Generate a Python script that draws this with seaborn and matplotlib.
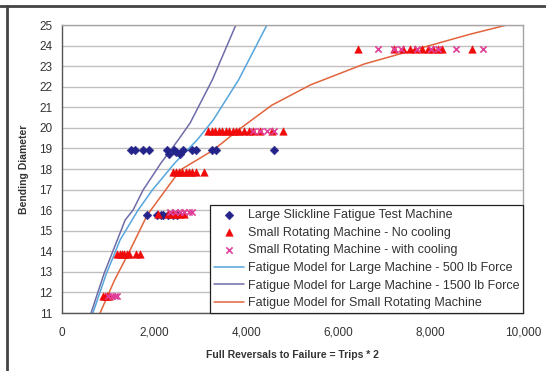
import matplotlib
matplotlib.use("Agg")
import matplotlib.pyplot as plt
from matplotlib.lines import Line2D
from matplotlib.ticker import FuncFormatter
import seaborn as sns

# ---------------- data ----------------
large_x = [1500, 1580, 1750, 1880, 2270, 2330, 2420, 2480, 2560, 2620, 2820, 2900, 3250, 3330, 4600,
           1850, 2050, 2150, 2200, 2300, 2400, 2500]
large_y = [18.9, 18.9, 18.9, 18.9, 18.9, 18.72, 18.9, 18.85, 18.72, 18.9, 18.9, 18.9, 18.9, 18.9, 18.9,
           15.75, 15.75, 15.75, 15.75, 15.75, 15.75, 15.75]

nocool_x = [880, 930, 980, 1020,
            1200, 1250, 1300, 1350, 1400, 1450, 1600, 1700,
            2080, 2300, 2400, 2480, 2560, 2650,
            2400, 2470, 2540, 2610, 2680, 2750, 2820, 2900, 3080,
            3170, 3250, 3320, 3400, 3470, 3550, 3620, 3700, 3780, 3850, 3950, 4050, 4150, 4300, 4550, 4800,
            6430, 7200, 7400, 7550, 7650, 7800, 7950, 8050, 8150, 8250, 8890]
nocool_y = [11.85] * 4 + [13.85] * 8 + [15.8] * 6 + [17.85] * 9 + [19.85] * 16 + [23.85] * 11

cool_x = [1000, 1080, 1150, 1200,
          2350, 2450, 2550, 2650, 2750, 2830,
          4150, 4300, 4450, 4600,
          6850, 7200, 7350, 7700, 8000, 8150, 8540, 9130]
cool_y = [11.85] * 4 + [15.9] * 6 + [19.85] * 4 + [23.85] * 8

m500_x = [670, 960, 1260, 1520, 1650, 1960, 2450, 2930, 3280, 3830, 4480]
m500_y = [11.0, 12.9, 14.55, 15.52, 16.0, 16.98, 18.3, 19.41, 20.38, 22.33, 25.15]

m1500_x = [630, 910, 1200, 1370, 1540, 1760, 2150, 2520, 2780, 3260, 3800]
m1500_y = [11.0, 12.9, 14.55, 15.52, 16.0, 16.98, 18.3, 19.41, 20.24, 22.33, 25.15]

small_x = [826, 1140, 1478, 1848, 2565, 3283, 3826, 4550, 5391, 6550, 7783, 8850, 9913]
small_y = [11.0, 12.6, 14.06, 15.76, 17.95, 18.92, 19.9, 21.1, 22.09, 23.1, 23.88, 24.55, 25.15]

x_ticks = [0, 2000, 4000, 6000, 8000, 10000]
y_ticks = list(range(11, 26))

labels = ["Large Slickline Fatigue Test Machine",
          "Small Rotating Machine - No cooling",
          "Small Rotating Machine - with cooling",
          "Fatigue Model for Large Machine - 500 lb Force",
          "Fatigue Model for Large Machine - 1500 lb Force",
          "Fatigue Model for Small Rotating Machine"]

# ---------------- style ----------------
sns.set_theme(style="white")
plt.rcParams["font.family"] = ["Liberation Sans", "DejaVu Sans"]

fig = plt.figure(figsize=(5.46, 3.71), dpi=100)
ax = fig.add_axes([62 / 546, 1 - 313 / 371, (523 - 62) / 546, (313 - 25) / 371])

c_light = "#55A5DC"
c_dark = "#6E6CA8"
c_orange = "#E2643C"

sns.lineplot(x=m500_x, y=m500_y, sort=False, estimator=None, color=c_light, lw=1.1, ax=ax, label=labels[3])
sns.lineplot(x=m1500_x, y=m1500_y, sort=False, estimator=None, color=c_dark, lw=1.1, ax=ax, label=labels[4])
sns.lineplot(x=small_x, y=small_y, sort=False, estimator=None, color=c_orange, lw=1.1, ax=ax, label=labels[5])

sns.scatterplot(x=large_x, y=large_y, marker="D", color="#23238A", s=20, edgecolor="#23238A",
                linewidth=0.3, ax=ax, label=labels[0], zorder=4)
sns.scatterplot(x=nocool_x, y=nocool_y, marker="^", color="#F00A0A", s=30, edgecolor="#F00A0A",
                linewidth=0.3, ax=ax, label=labels[1], zorder=4)
sns.scatterplot(x=cool_x, y=cool_y, marker="x", color="#E0409A", s=20, linewidth=1.2,
                ax=ax, label=labels[2], zorder=5)

ax.set_xlim(0, 10000)
ax.set_ylim(11, 25)
ax.set_xticks(x_ticks)
ax.set_yticks(y_ticks)
ax.xaxis.set_major_formatter(FuncFormatter(lambda v, p: f"{int(v):,}"))
ax.yaxis.grid(True, color="#C4BEBE", lw=1.0)
ax.xaxis.grid(False)
ax.set_axisbelow(True)

for s in ["top", "right"]:
    ax.spines[s].set_color("#A8A4A4")
    ax.spines[s].set_linewidth(1.0)
for s in ["left", "bottom"]:
    ax.spines[s].set_color("#555555")
    ax.spines[s].set_linewidth(1.0)

ax.tick_params(axis="both", which="major", direction="out", length=4, width=0.8,
               color="#555555", labelsize=8.5, labelcolor="#333333", pad=3)
ax.tick_params(axis="x", pad=6)

ax.set_xlabel("Full Reversals to Failure = Trips * 2", fontsize=7.5, fontweight="bold",
              color="#333333", labelpad=8)
ax.set_ylabel("Bending Diameter", fontsize=7.5, fontweight="bold", color="#333333", labelpad=7)

h, l = ax.get_legend_handles_labels()
order = [l.index(t) for t in labels]
leg = ax.legend([h[i] for i in order], [l[i] for i in order], loc="lower right",
                bbox_to_anchor=(1.0, 0.0), fontsize=9, frameon=True, fancybox=False,
                edgecolor="#222222", framealpha=1, handlelength=2.4, handletextpad=0.3,
                labelspacing=0.45, borderpad=0.3, borderaxespad=0.0)
leg.get_frame().set_linewidth(0.9)
for t in leg.get_texts():
    t.set_color("#333333")

# outer chart frame (top and left edges)
fig.add_artist(Line2D([0, 1], [1 - 6 / 371] * 2, color="#444444", lw=2))
fig.add_artist(Line2D([7 / 546] * 2, [0, 1 - 6 / 371], color="#444444", lw=2))

fig.savefig("out.png", dpi=100)
